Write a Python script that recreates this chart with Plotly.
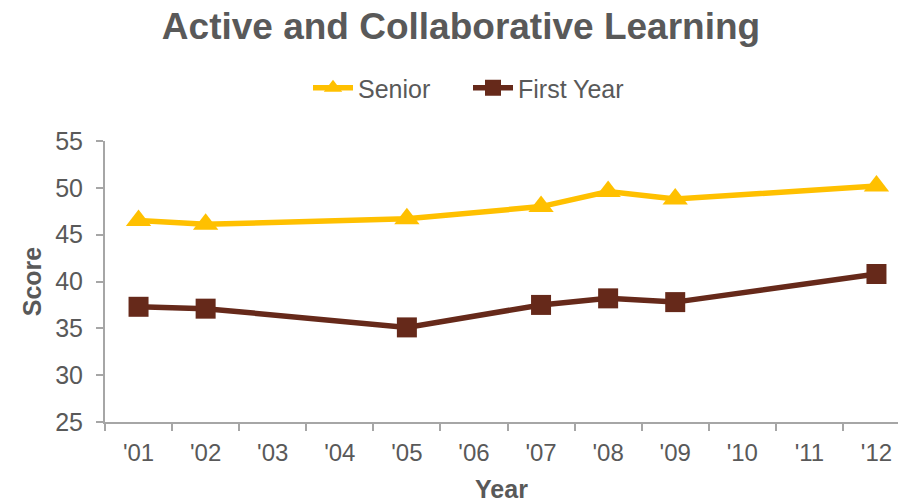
import plotly.graph_objects as go

# Survey years shown on the category axis
years = ["'01", "'02", "'03", "'04", "'05", "'06", "'07", "'08", "'09", "'10", "'11", "'12"]

# Years in which the survey was administered
survey_years = ["'01", "'02", "'05", "'07", "'08", "'09", "'12"]

# Benchmark scores
senior = [46.5, 46.1, 46.7, 48.0, 49.6, 48.8, 50.2]
first_year = [37.3, 37.1, 35.1, 37.5, 38.2, 37.8, 40.8]

GOLD = "#FFC000"
BROWN = "#66291A"
TEXT = "#595959"
AXIS = "#A6A6A6"
FONT = "Liberation Sans, Arial, sans-serif"

fig = go.Figure()
fig.add_trace(go.Scatter(
    x=survey_years, y=senior, name="Senior", mode="lines+markers",
    line=dict(color=GOLD, width=5.5),
    marker=dict(symbol="triangle-up", size=22, color=GOLD),
))
fig.add_trace(go.Scatter(
    x=survey_years, y=first_year, name="First Year", mode="lines+markers",
    line=dict(color=BROWN, width=5.5),
    marker=dict(symbol="square", size=20, color=BROWN),
))

fig.update_layout(
    width=898, height=503,
    margin=dict(l=105, r=0, t=141, b=81),
    paper_bgcolor="white", plot_bgcolor="white",
    font=dict(family=FONT, color=TEXT, size=25),
    title=dict(
        text="<b>Active and Collaborative Learning</b>",
        font=dict(size=37, color=TEXT, family=FONT),
        x=461 / 898, xanchor="center", xref="container",
        y=1 - 26 / 503, yanchor="middle", yref="container",
    ),
    legend=dict(
        orientation="h", x=(308 - 105) / 793, xanchor="left",
        y=(422 - 88) / 281, yanchor="middle",
        font=dict(size=25, color=TEXT, family=FONT),
        entrywidth=105, entrywidthmode="pixels",
        itemwidth=40, tracegroupgap=0,
        bgcolor="rgba(0,0,0,0)",
    ),
    showlegend=True,
)

fig.update_xaxes(
    type="category", categoryorder="array", categoryarray=years,
    range=[-0.5, 11.5 - 12 / 67],
    showline=True, linecolor=AXIS, linewidth=2,
    ticks="outside", tickson="boundaries", ticklen=7, tickcolor=AXIS, tickwidth=2,
    tickfont=dict(size=24, color=TEXT),
    ticklabelstandoff=8,
    showgrid=False, zeroline=False,
    title=dict(text="<b>Year</b>", font=dict(size=25, color=TEXT), standoff=19),
)
fig.update_yaxes(
    range=[25, 55], dtick=5, tick0=25,
    showline=True, linecolor=AXIS, linewidth=2,
    ticks="outside", ticklen=7, tickcolor=AXIS, tickwidth=2,
    tickfont=dict(size=25, color=TEXT),
    ticklabelstandoff=8,
    showgrid=False, zeroline=False,
    title=dict(text="<b>Score</b>", font=dict(size=25, color=TEXT), standoff=6),
)

fig.write_html("out.html")
